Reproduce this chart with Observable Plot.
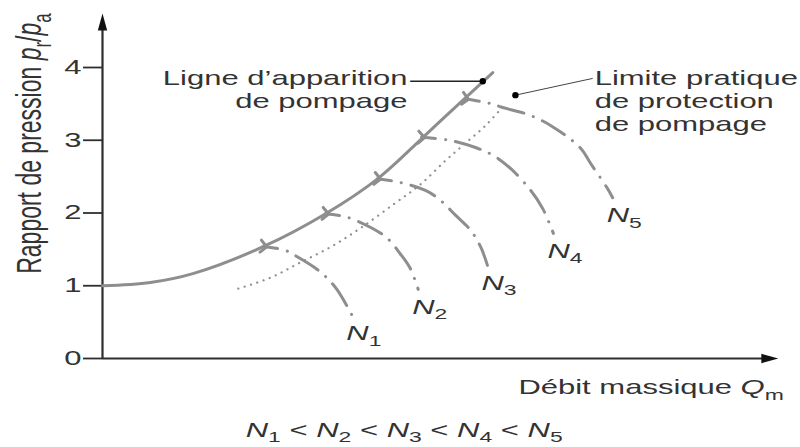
<!DOCTYPE html>
<html><head><meta charset="utf-8">
<script src="https://cdn.jsdelivr.net/npm/d3@7"></script>
<script src="https://cdn.jsdelivr.net/npm/@observablehq/plot@0.6"></script>
<style>
html,body{margin:0;padding:0;background:#fff;}
</style>
</head><body><div id="chart"></div>
<script>
// ---- data (arbitrary mass-flow units on x, pressure ratio on y) ----
const P_TICKS = [0, 1, 2, 3, 4];

const SURGE_Q = [0, 0.72, 1.37, 2.42, 3.35, 4.13, 4.79, 5.08, 5.86];
const SURGE_P = [1.00, 1.045, 1.17, 1.54, 1.99, 2.47, 3.02, 3.27, 3.93];

const LIMIT_Q = [2.04, 2.52, 2.97, 3.42, 3.87, 4.37, 4.77, 5.15, 5.45, 5.75, 6.01];
const LIMIT_P = [0.96, 1.11, 1.32, 1.53, 1.79, 2.12, 2.39, 2.72, 2.96, 3.20, 3.46];

const SPEEDS = ["*N*_{1}", "*N*_{2}", "*N*_{3}", "*N*_{4}", "*N*_{5}"];
const N1_Q = [2.42, 2.75, 2.94, 3.20, 3.38, 3.53, 3.75];
const N1_P = [1.54, 1.485, 1.39, 1.24, 1.10, 0.935, 0.59];
const N2_Q = [3.35, 3.68, 4.05, 4.28, 4.47, 4.62, 4.74];
const N2_P = [1.99, 1.94, 1.79, 1.65, 1.44, 1.24, 0.95];
const N3_Q = [4.13, 4.47, 4.85, 5.08, 5.30, 5.53, 5.68, 5.78];
const N3_P = [2.47, 2.42, 2.31, 2.17, 1.97, 1.76, 1.53, 1.28];
const N4_Q = [4.79, 5.21, 5.60, 5.87, 6.13, 6.43, 6.61, 6.77];
const N4_P = [3.04, 3.00, 2.90, 2.79, 2.61, 2.31, 2.06, 1.72];
const N5_Q = [5.45, 5.80, 6.01, 6.43, 6.77, 7.18, 7.33, 7.58, 7.66];
const N5_P = [3.57, 3.51, 3.45, 3.34, 3.18, 2.89, 2.68, 2.34, 2.21];

const SURGE_MARK = {q: 5.71, p: 3.81};
const LIMIT_MARK = {q: 6.20, p: 3.62};

const TXT_SURGE = "Ligne d\u2019apparition\nde pompage";
const TXT_LIMIT = "Limite pratique\nde protection\nde pompage";
const TXT_YLABEL = "Rapport de pression *p*_{r}/*p*_{a}";
const TXT_XLABEL = "D\u00e9bit massique *Q*_{m}";
const TXT_CAPTION = "*N*_{1} < *N*_{2} < *N*_{3} < *N*_{4} < *N*_{5}";

// ---- build tables ----
const zip = (Q, P, extra = {}) => Q.map((q, i) => ({q, p: P[i], ...extra}));
const surge = zip(SURGE_Q, SURGE_P);
const limit = zip(LIMIT_Q, LIMIT_P);
const NQ = [N1_Q, N2_Q, N3_Q, N4_Q, N5_Q];
const NP = [N1_P, N2_P, N3_P, N4_P, N5_P];
const speedCurves = SPEEDS.flatMap((s, k) => zip(NQ[k], NP[k], {speed: s}));
const speedEnds = SPEEDS.map((s, k) => ({speed: s, q: NQ[k][NQ[k].length - 1], p: NP[k][NP[k].length - 1]}));

const AXIS = "#2e2e2e", CURVE = "#8e8e8e", TEXT = "#333";
const FS = 20;
const X_END = 10, Y_END = 4.625;
const arrowHead = {draw(ctx, size) {
  const r = Math.sqrt(size / Math.PI);
  ctx.moveTo(0, -r); ctx.lineTo(0.55 * r, r); ctx.lineTo(-0.55 * r, r); ctx.closePath();
}};

const svg = Plot.plot({
  width: 800, height: 447,
  marginLeft: 102, marginRight: 32, marginTop: 67, marginBottom: 89,
  x: {domain: [0, 10], axis: null},
  y: {domain: [0, 4], axis: null},
  style: {fontFamily: "'Liberation Sans', Arial, sans-serif", fontSize: FS + "px", color: TEXT, background: "#fff", overflow: "visible"},
  marks: [
    // axes
    Plot.ruleX([0], {y1: 0, y2: Y_END - 0.05, stroke: AXIS, strokeWidth: 2.2}),
    Plot.ruleY([0], {x1: 0, x2: X_END - 0.05, stroke: AXIS, strokeWidth: 2.2}),
    Plot.dot([{q: 0, p: Y_END}], {x: "q", y: "p", symbol: arrowHead, r: 8.5, fill: "#111", stroke: null}),
    Plot.dot([{q: X_END + 0.02, p: 0}], {x: "q", y: "p", symbol: arrowHead, r: 8.5, rotate: 90, fill: "#111", stroke: null}),
    Plot.axisY({ticks: P_TICKS, tickSize: 19, tickPadding: 2, fontSize: FS, stroke: AXIS, strokeWidth: 1.8, fill: TEXT, label: null, tickFormat: d => String(d)}),
    // limit (dotted)
    Plot.line(limit, {x: "q", y: "p", curve: "catmull-rom", stroke: CURVE, strokeWidth: 2.2, strokeDasharray: "0.1,6.5", strokeLinecap: "round"}),
    // speed lines
    Plot.line(speedCurves, {x: "q", y: "p", z: "speed", curve: "catmull-rom", stroke: CURVE, strokeWidth: 3,
      strokeDasharray: "26,10,0.1,10", strokeDashoffset: 12, strokeLinecap: "round", markerStart: "arrow"}),
    // surge line
    Plot.line(surge, {x: "q", y: "p", curve: "catmull-rom", stroke: CURVE, strokeWidth: 3}),
    // callouts
    Plot.link([SURGE_MARK], {x1: 4.62, y1: "p", x2: "q", y2: "p", stroke: "#222", strokeWidth: 1.6}),
    Plot.link([LIMIT_MARK], {x1: "q", y1: "p", x2: 7.36, y2: 3.85, stroke: "#444", strokeWidth: 1}),
    Plot.dot([SURGE_MARK, LIMIT_MARK], {x: "q", y: "p", r: 3.2, fill: "#000", stroke: null}),
    Plot.text([TXT_SURGE], {x: 4.58, y: 3.70, textAnchor: "end", lineAnchor: "middle", lineHeight: 1.15, fill: TEXT}),
    Plot.text([TXT_LIMIT], {x: 7.39, y: 3.55, textAnchor: "start", lineAnchor: "middle", lineHeight: 1.15, fill: TEXT}),
    // speed labels
    Plot.text(speedEnds, {x: "q", y: "p", text: "speed", dx: -6, dy: 18, textAnchor: "start", lineAnchor: "middle", fill: TEXT}),
    // axis labels, caption
    Plot.text([TXT_YLABEL], {x: -1.09, y: 2.955, rotate: -90, textAnchor: "middle", lineAnchor: "middle", fontSize: 23, fill: TEXT}),
    Plot.text([TXT_XLABEL], {x: 10.23, y: -0.40, textAnchor: "end", lineAnchor: "middle", fill: TEXT}),
    Plot.text([TXT_CAPTION], {x: 4.53, y: -0.985, textAnchor: "middle", lineAnchor: "middle", fill: TEXT})
  ]
});

// ---- rich text: *italic* and _{subscript} ----
const NS = "http://www.w3.org/2000/svg";
const RE = /\*([^*]+)\*|_\{([^}]+)\}|([^*_]+)/g;
svg.querySelectorAll("text").forEach(t => {
  if (t.children.length) return;
  const s = t.textContent;
  if (!/[*_]/.test(s)) return;
  const fs = parseFloat(t.getAttribute("font-size")) || parseFloat(t.parentNode.getAttribute("font-size")) || FS;
  t.textContent = "";
  let shift = 0;
  for (const m of s.matchAll(RE)) {
    const ts = document.createElementNS(NS, "tspan");
    if (m[2]) {
      ts.textContent = m[2];
      ts.setAttribute("font-size", (fs * 0.74).toFixed(1));
      ts.setAttribute("dy", (fs * 0.28).toFixed(1));
      shift = fs * 0.28;
    } else {
      ts.textContent = m[1] || m[3];
      if (m[1]) ts.setAttribute("font-style", "italic");
      if (shift) { ts.setAttribute("dy", (-shift).toFixed(1)); shift = 0; }
    }
    t.appendChild(ts);
  }
});
// horizontal stretch of the lettering, as in the reference print
const SX = 1.55;
svg.querySelectorAll("text").forEach(t => {
  const tr = t.getAttribute("transform");
  if (tr && /^translate\(/.test(tr)) t.setAttribute("transform", tr.replace(/^(translate\([^)]*\))/, `$1 scale(${SX},1)`));
});
document.getElementById("chart").appendChild(svg);
</script></body></html>
